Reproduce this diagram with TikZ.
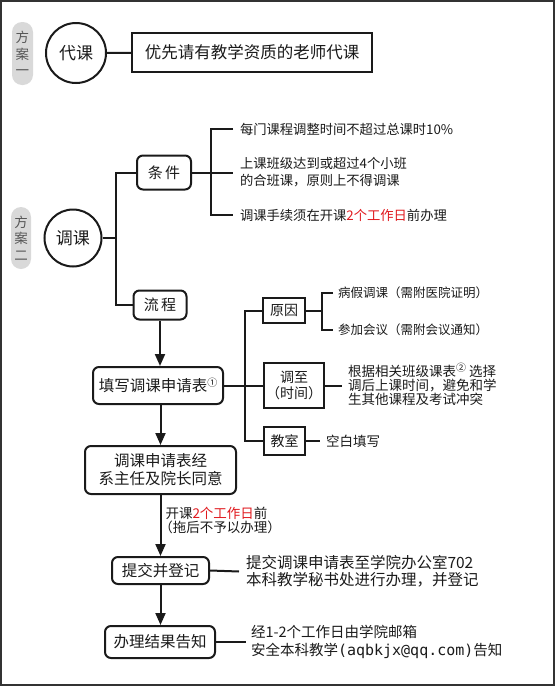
\documentclass[tikz,border=0pt]{standalone}
\usepackage{fontspec}
\setmainfont{Noto Sans CJK SC}
\newfontfamily\monof{DejaVu Sans Mono}
\usetikzlibrary{arrows.meta}
\definecolor{ink}{HTML}{1A1A1A}
\definecolor{hl}{HTML}{E0191E}
\definecolor{pillc}{HTML}{D9D9D9}
\definecolor{pilltext}{HTML}{555555}
\definecolor{framec}{HTML}{333333}
\newcommand{\supc}[1]{\smash{\raisebox{5pt}{\fontsize{10}{10}\selectfont #1}}}
\begin{document}
\begin{tikzpicture}[x=1pt,y=-1pt,
  line width=2pt, draw=ink,
  every node/.style={text=ink},
  circ/.style={draw, circle, inner sep=0pt},
  rbox/.style={draw, rounded corners=6pt, inner sep=0pt, align=center},
  sbox/.style={draw, inner sep=0pt, align=center},
  pilln/.style={fill=pillc, rounded corners=10pt, inner sep=0pt, align=center, text=pilltext, font=\fontsize{13.5}{16.5}\selectfont},
  txt/.style={anchor=west, inner ysep=0pt, align=left},
  arr/.style={-{Triangle[length=12pt,width=10pt]}},
  f17/.style={font=\fontsize{17}{17}\selectfont},
  f15/.style={font=\fontsize{15.5}{18}\selectfont},
  f14/.style={font=\fontsize{14}{16}\selectfont},
]
\useasboundingbox (0,0) rectangle (555,686);
\draw[line width=2pt, draw=framec] (1,1) rectangle (554,685);

% scheme one
\node[pilln, minimum width=21pt, minimum height=63pt] (p1) at (22.5,53.5) {方\\案\\一};
\node[circ, minimum size=60pt, f17] (daike) at (76,53) {代课};
\node[sbox, minimum width=240pt, minimum height=39pt, font=\fontsize{16.5}{17}\selectfont] (pref) at (252,52.5) {优先请有教学资质的老师代课};
\draw (daike) -- (pref);

% scheme two
\node[pilln, minimum width=20pt, minimum height=62pt] (p2) at (21,238) {方\\案\\二};
\node[circ, minimum size=57pt, f17] (tiaoke) at (73,238) {调课};
\coordinate (t1) at (116,238);
\node[rbox, minimum width=54pt, minimum height=34pt, font=\fontsize{15}{15}\selectfont] (tiaojian) at (164,172.5) {条\,件};
\node[rbox, minimum width=53pt, minimum height=29pt, font=\fontsize{15}{15}\selectfont] (liucheng) at (160,305) {流\,程};
\draw (tiaoke) -- (t1);
\draw (tiaojian.west) -| (t1) |- (liucheng.west);

% conditions
\coordinate (b1) at (211,172.5);
\node[txt, inner xsep=6pt, font=\fontsize{13.3}{17}\selectfont] (c1) at (233,129) {每门课程调整时间不超过总课时10\%};
\node[txt, inner xsep=6pt, font=\fontsize{13.3}{17}\selectfont] (c2) at (233,172.5) {上课班级达到或超过4个小班\\的合班课，原则上不得调课};
\node[txt, inner xsep=6pt, font=\fontsize{13.3}{17}\selectfont] (c3) at (233,215) {调课手续须在开课\textcolor{hl}{2个工作日}前办理};
\draw (tiaojian.east) -- (c2.west);
\draw (c1.west) -| (b1) |- (c3.west);

% form
\node[rbox, minimum width=130pt, minimum height=37pt, f15] (tianxie) at (158,385.5) {填写调课申请表\supc{①}};
\draw[arr] (liucheng.south) -- (liucheng.south |- tianxie.north);

\coordinate (t2) at (245,385.5);
\node[sbox, minimum width=42pt, minimum height=25pt, f14] (yuanyin) at (284,310.5) {原因};
\node[sbox, minimum width=60pt, minimum height=45pt, f14] (tiaozhi) at (294,385.5) {调至\\（时间）};
\node[sbox, minimum width=41pt, minimum height=28pt, f14] (jiaoshi) at (284.5,441) {教室};
\draw (tianxie.east) -- (tiaozhi.west);
\draw (yuanyin.west) -| (t2) |- (jiaoshi.west);

\coordinate (b2) at (322,310.5);
\node[txt, inner xsep=4pt, font=\fontsize{12.5}{14}\selectfont] (r1) at (333,293) {病假调课（需附医院证明）};
\node[txt, inner xsep=4pt, font=\fontsize{12.5}{14}\selectfont] (r2) at (333,330) {参加会议（需附会议通知）};
\draw (yuanyin.east) -- (b2);
\draw (r1.west) -| (b2) |- (r2.west);

\node[txt, inner xsep=5pt, font=\fontsize{13.5}{14}\selectfont] (tzt) at (342,385.5) {根据相关班级课表\supc{②}\ 选择\\调后上课时间，避免和学\\生其他课程及考试冲突};
\draw (tiaozhi.east) -- (tzt.west);

\node[txt, inner xsep=5pt, font=\fontsize{13.5}{14}\selectfont] (jst) at (320,441) {空白填写};
\draw (jiaoshi.east) -- (jst.west);

% flow
\node[rbox, minimum width=151pt, minimum height=48pt, f15] (agree) at (160.5,470) {调课申请表经\\系主任及院长同意};
\node[rbox, minimum width=97pt, minimum height=27pt, f15] (submit) at (160.5,570.5) {提交并登记};
\node[rbox, minimum width=110pt, minimum height=32pt, f15] (notify) at (160,642) {办理结果告知};

\draw[arr] (tianxie.south -| agree.north) -- (agree.north);
\draw[arr] (agree.south) -- node[pos=0.41, anchor=west, inner sep=0pt, xshift=4pt, align=left, font=\fontsize{13.5}{14}\selectfont] (lbl) {开课\textcolor{hl}{2个工作日}前\\\hspace*{-0.45em}（拖后不予以办理）} (submit.north);
\draw[arr] (submit.south) -- (submit.south |- notify.north);

\node[txt, inner xsep=6pt, font=\fontsize{15.5}{17}\selectfont] (subt) at (239,571.5) {提交调课申请表至学院办公室702\\本科教学秘书处进行办理，并登记};
\draw (submit.east) -- (subt.west);
\node[txt, inner xsep=4pt, font=\fontsize{14.5}{18}\selectfont] (nott) at (246,642) {经1-2个工作日由学院邮箱\\安全本科教学{\monof\fontsize{15}{18}\selectfont(aqbkjx@qq.com)}告知};
\draw (notify.east) -- (nott.west);
\end{tikzpicture}
\end{document}
